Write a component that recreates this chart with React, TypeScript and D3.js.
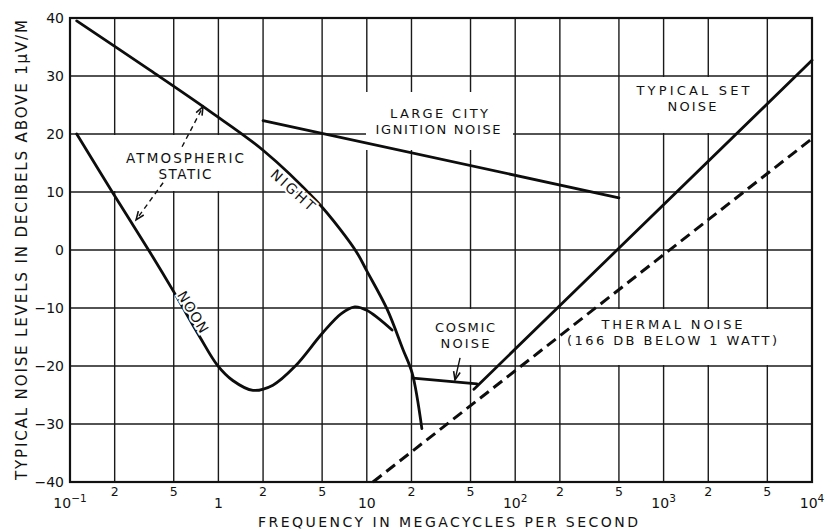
import React from "react";
import * as d3 from "d3";

const W = 827;
const H = 531;
const PL = 70, PR = 812, PT = 18, PB = 482;

// ---- data ----
const yTicks = [40, 30, 20, 10, 0, -10, -20, -30, -40];
const decadeTicks = [0.1, 1, 10, 100, 1000, 10000];
const decadeBase = ["10", "1", "10", "10", "10", "10"];
const decadeExp = ["−1", "", "", "2", "3", "4"];
const minorTicks = [0.2, 0.5, 2, 5, 20, 50, 200, 500, 2000, 5000];
const minorLabels = ["2", "5", "2", "5", "2", "5", "2", "5", "2", "5"];

const nightFreq = [0.111, 0.346, 0.877, 2.0, 4.6, 6.6, 8.6, 10, 13.7, 17.5, 20.2, 23.5];
const nightDb = [39.5, 31.0, 23.9, 17.2, 8.4, 3.6, -0.5, -3.6, -10.2, -17.1, -21.2, -30.8];

const noonFreq = [0.111, 0.195, 0.35, 0.495, 0.75, 0.98, 1.25, 1.71, 2.33, 3.3, 5.0, 6.7, 8.3, 10, 14.8];
const noonDb = [20, 9.8, -0.6, -7, -15.0, -19.8, -22.5, -24.2, -23.3, -20, -14.4, -11.0, -9.8, -10.4, -13.8];

const cityFreq = [2, 500];
const cityDb = [22.3, 9.0];

const cosmicFreq = [20.5, 55.3];
const cosmicDb = [-22.1, -23.1];

const setFreq = [52.7, 10000];
const setDb = [-24, 32.7];

const thermalFreq = [11, 10000];
const thermalDb = [-40, 19.2];

// annotation arrows: [tailFreq, tailDb, tipFreq, tipDb]
const atmArrowUp = [0.569, 17.8, 0.787, 24.7];
const atmArrowDown = [0.424, 11.6, 0.279, 5.2];
const cosmicArrow = [42.5, -18.6, 39.3, -22.4];

const FONT = "'DejaVu Sans', 'Liberation Sans', sans-serif";

export default function App() {
  const x = d3.scaleLog().domain([0.1, 10000]).range([PL, PR]);
  const y = d3.scaleLinear().domain([-40, 40]).range([PB, PT]);

  const line = (xs: number[], ys: number[], curve: any = d3.curveLinear) =>
    d3
      .line<number>()
      .x((_, i) => x(xs[i]))
      .y((_, i) => y(ys[i]))
      .curve(curve)(xs) as string;

  const allGridX = [...decadeTicks, ...minorTicks];

  const arrow = (a: number[], dashed: boolean, key: string) => {
    const x1 = x(a[0]), y1 = y(a[1]), x2 = x(a[2]), y2 = y(a[3]);
    const ang = Math.atan2(y2 - y1, x2 - x1);
    const L = 9, spread = 0.38;
    const p1 = [x2 - L * Math.cos(ang - spread), y2 - L * Math.sin(ang - spread)];
    const p2 = [x2 - L * Math.cos(ang + spread), y2 - L * Math.sin(ang + spread)];
    return (
      <g key={key}>
        <line x1={x1} y1={y1} x2={x2} y2={y2} stroke="#111" strokeWidth={1.4}
          strokeDasharray={dashed ? "5,4" : undefined} />
        <path d={`M${p1[0]},${p1[1]} L${x2},${y2} L${p2[0]},${p2[1]}`} fill="none"
          stroke="#111" strokeWidth={1.6} />
      </g>
    );
  };

  const label = (txt: string, cx: number, by: number, len: number, size = 13) => (
    <text x={cx} y={by} textAnchor="middle" fontSize={size} fontFamily={FONT}
      textLength={len} lengthAdjust="spacing" fill="#111">{txt}</text>
  );

  const smooth = d3.curveCatmullRom.alpha(0.5);

  return (
    <svg width={W} height={H} style={{ position: "absolute", left: 0, top: 0, background: "#fff" }}>
      <rect x={0} y={0} width={W} height={H} fill="#fff" />
      {/* grid */}
      {allGridX.map((v, i) => (
        <line key={"gx" + i} x1={x(v)} x2={x(v)} y1={PT} y2={PB} stroke="#1a1a1a" strokeWidth={1.4} />
      ))}
      {yTicks.map((v) => (
        <line key={"gy" + v} x1={PL} x2={PR} y1={y(v)} y2={y(v)} stroke="#1a1a1a" strokeWidth={1.4} />
      ))}
      {/* label boxes (white cutouts of vertical grid lines) */}
      <rect x={113} y={y(20) + 1} width={140} height={y(10) - y(20) - 2} fill="#fff" />
      <rect x={366} y={92} width={147} height={58} fill="#fff" />
      <rect x={621} y={y(30) + 1} width={135} height={y(20) - y(30) - 2} fill="#fff" />
      <rect x={420} y={y(-10) + 1} width={90} height={y(-20) - y(-10) - 2} fill="#fff" />
      <rect x={560} y={y(-10) + 1} width={PR - 561} height={y(-20) - y(-10) - 2} fill="#fff" />
      {/* frame */}
      <rect x={PL} y={PT} width={PR - PL} height={PB - PT} fill="none" stroke="#111" strokeWidth={2.2} />

      {/* curves */}
      <g fill="none" stroke="#0d0d0d" strokeWidth={2.8} strokeLinecap="round">
        <path d={line(nightFreq, nightDb, smooth)} />
        <path d={line(noonFreq, noonDb, smooth)} />
        <path d={line(cityFreq, cityDb)} />
        <path d={line(cosmicFreq, cosmicDb)} />
        <path d={line(setFreq, setDb)} />
        <path d={line(thermalFreq, thermalDb)} strokeDasharray="11,6" strokeLinecap="butt" strokeWidth={3} />
      </g>

      {/* arrows */}
      {arrow(atmArrowUp, true, "a1")}
      {arrow(atmArrowDown, true, "a2")}
      {arrow(cosmicArrow, false, "a3")}

      {/* annotation labels */}
      {label("ATMOSPHERIC", 185, 163, 118, 13.5)}
      {label("STATIC", 185, 179, 53, 13.5)}
      {label("LARGE CITY", 439, 118, 98, 13)}
      {label("IGNITION NOISE", 438, 134, 125, 13)}
      {label("TYPICAL SET", 693, 95, 113, 13)}
      {label("NOISE", 692, 111, 49, 13)}
      {label("COSMIC", 465, 332, 60, 13)}
      {label("NOISE", 465, 348, 49, 13)}
      {label("THERMAL NOISE", 672, 329, 141, 13)}
      {label("(166 DB BELOW 1 WATT)", 672, 345, 210, 13)}

      <text transform="translate(293,190) rotate(42)" textAnchor="middle" dominantBaseline="central"
        fontSize={14} fontFamily={FONT} textLength={54} lengthAdjust="spacing"
        stroke="#fff" strokeWidth={4} paintOrder="stroke" fill="#111">NIGHT</text>
      <text transform="translate(193,312) rotate(59)" textAnchor="middle" dominantBaseline="central"
        fontSize={14} fontFamily={FONT} textLength={46} lengthAdjust="spacing"
        stroke="#fff" strokeWidth={4} paintOrder="stroke" fill="#111">NOON</text>

      {/* y tick labels */}
      {yTicks.map((v) => (
        <text key={"yl" + v} x={64} y={y(v)} textAnchor="end" dominantBaseline="central"
          fontSize={14} fontFamily={FONT} fill="#111">
          {v < 0 ? "−" + Math.abs(v) : String(v)}
        </text>
      ))}

      {/* x tick labels */}
      {minorTicks.map((v, i) => (
        <text key={"ml" + i} x={x(v)} y={496} textAnchor="middle" fontSize={12.5} fontFamily={FONT} fill="#111">
          {minorLabels[i]}
        </text>
      ))}
      {decadeTicks.map((v, i) => (
        <text key={"dl" + i} x={x(v)} y={508} textAnchor="middle" fontSize={14} fontFamily={FONT} fill="#111">
          {decadeBase[i]}
          {decadeExp[i] && <tspan dy={-6} fontSize={10.5}>{decadeExp[i]}</tspan>}
        </text>
      ))}

      {/* axis titles */}
      <text x={448} y={527} textAnchor="middle" fontSize={14} fontFamily={FONT} fill="#111"
        textLength={380} lengthAdjust="spacing">FREQUENCY IN MEGACYCLES PER SECOND</text>
      <text transform="translate(27,250) rotate(-90)" textAnchor="middle" fontSize={15} fontFamily={FONT}
        fill="#111" textLength={460} lengthAdjust="spacing">TYPICAL NOISE LEVELS IN DECIBELS ABOVE 1μV/M</text>
    </svg>
  );
}
